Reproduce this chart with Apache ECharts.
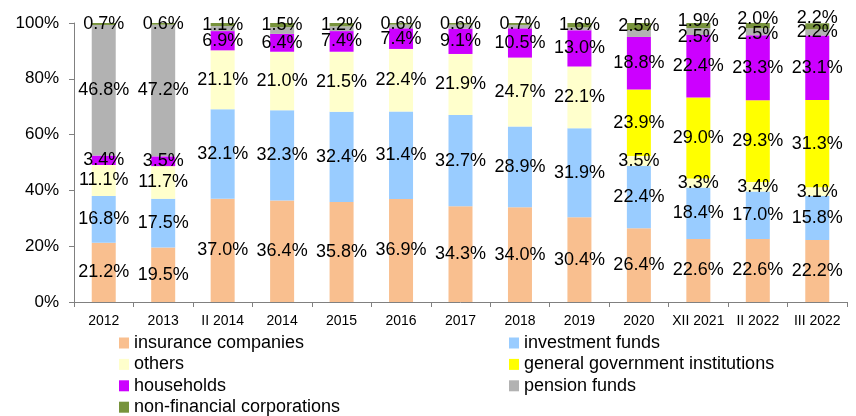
<!DOCTYPE html>
<html>
<head>
<meta charset="utf-8">
<script src="https://cdn.jsdelivr.net/npm/echarts@6/dist/echarts.min.js"></script>
<style>
  html, body { margin: 0; padding: 0; background: #fff; }
  #chart { width: 856px; height: 416px; }
</style>
</head>
<body>
<div id="chart"></div>
<script>
// categories on the x axis
var categories = ['2012', '2013', 'II 2014', '2014', '2015', '2016', '2017', '2018', '2019', '2020', 'XII 2021', 'II 2022', 'III 2022']

// shares in %, bottom to top of each bar
var insurance = [21.2, 19.5, 37.0, 36.4, 35.8, 36.9, 34.3, 34.0, 30.4, 26.4, 22.6, 22.6, 22.2]
var investment = [16.8, 17.5, 32.1, 32.3, 32.4, 31.4, 32.7, 28.9, 31.9, 22.4, 18.4, 17.0, 15.8]
var others = [11.1, 11.7, 21.1, 21.0, 21.5, 22.4, 21.9, 24.7, 22.1, 3.5, 3.3, 3.4, 3.1]
var government = [null, null, null, null, null, null, null, null, null, 23.9, 29.0, 29.3, 31.3]
var households = [3.4, 3.5, 6.9, 6.4, 7.4, 7.4, 9.1, 10.5, 13.0, 18.8, 22.4, 23.3, 23.1]
var pension = [46.8, 47.2, 1.8, 2.4, 1.7, 1.3, 1.4, 1.2, 1.0, 2.5, 2.5, 2.5, 2.2]
var nonFinancial = [0.7, 0.6, 1.1, 1.5, 1.2, 0.6, 0.6, 0.7, 1.6, 2.5, 1.9, 2.0, 2.2]

// pension fund values that carry no label in the original
var pensionNoLabel = [2, 3, 4, 5, 6, 7, 8, 9]

// label nudges (px) for the crowded tops of the last bars
var pensionLabelShift = { 10: 6, 11: 2, 12: 0 }
var nonFinLabelShift = { 10: -4, 11: -7, 12: -8 }

var yTicks = [0, 20, 40, 60, 80, 100]

var chart = echarts.init(document.getElementById('chart'))

function bar(name, values, color, hidden, shift) {
  return {
    name: name,
    type: 'bar',
    stack: 'total',
    barWidth: 24,
    itemStyle: { color: color },
    label: {
      show: true,
      position: 'inside',
      color: '#000',
      fontSize: 18,
      fontFamily: 'Liberation Sans, Arial, sans-serif',
      formatter: function (p) {
        return p.value == null ? '' : p.value.toFixed(1) + '%'
      }
    },
    data: values.map(function (v, i) {
      if (hidden && hidden.indexOf(i) >= 0) {
        return { value: v, label: { show: false } }
      }
      if (shift && shift[i] != null) {
        return { value: v, label: { offset: [0, shift[i]] } }
      }
      return v
    })
  }
}

var legendText = { fontSize: 18, color: '#000', fontFamily: 'Liberation Sans, Arial, sans-serif' }

var option = {
  animation: false,
  backgroundColor: '#fff',
  grid: { left: 74, right: 9, top: 23, bottom: 114 },
  legend: [
    {
      orient: 'vertical',
      left: 119,
      top: 334,
      height: 90,
      itemWidth: 10,
      itemHeight: 11,
      itemGap: 3.4,
      padding: 0,
      icon: 'rect',
      textStyle: legendText,
      data: ['insurance companies', 'others', 'households', 'non-financial corporations']
    },
    {
      orient: 'vertical',
      left: 509,
      top: 334,
      height: 90,
      itemWidth: 10,
      itemHeight: 11,
      itemGap: 3.4,
      padding: 0,
      icon: 'rect',
      textStyle: legendText,
      data: ['investment funds', 'general government institutions', 'pension funds']
    }
  ],
  xAxis: {
    type: 'category',
    data: categories,
    axisLine: { lineStyle: { color: '#808080' } },
    axisTick: { show: true, length: 5, lineStyle: { color: '#808080' } },
    axisLabel: {
      color: '#000',
      fontSize: 14,
      margin: 12,
      interval: 0,
      fontFamily: 'Liberation Sans, Arial, sans-serif'
    }
  },
  yAxis: {
    type: 'value',
    min: yTicks[0],
    max: yTicks[yTicks.length - 1],
    interval: 20,
    splitLine: { show: false },
    axisLine: { show: true, lineStyle: { color: '#808080' } },
    axisTick: { show: true, length: 5, lineStyle: { color: '#808080' } },
    axisLabel: {
      color: '#000',
      fontSize: 17,
      margin: 15,
      fontFamily: 'Liberation Sans, Arial, sans-serif',
      formatter: '{value}%'
    }
  },
  series: [
    bar('insurance companies', insurance, '#F9BF8F'),
    bar('investment funds', investment, '#99CCFF'),
    bar('others', others, '#FFFFCC'),
    bar('general government institutions', government, '#FFFF00'),
    bar('households', households, '#CC00FF'),
    bar('pension funds', pension, '#B2B2B2', pensionNoLabel, pensionLabelShift),
    bar('non-financial corporations', nonFinancial, '#77933C', null, nonFinLabelShift)
  ]
}

chart.setOption(option)
</script>
</body>
</html>
